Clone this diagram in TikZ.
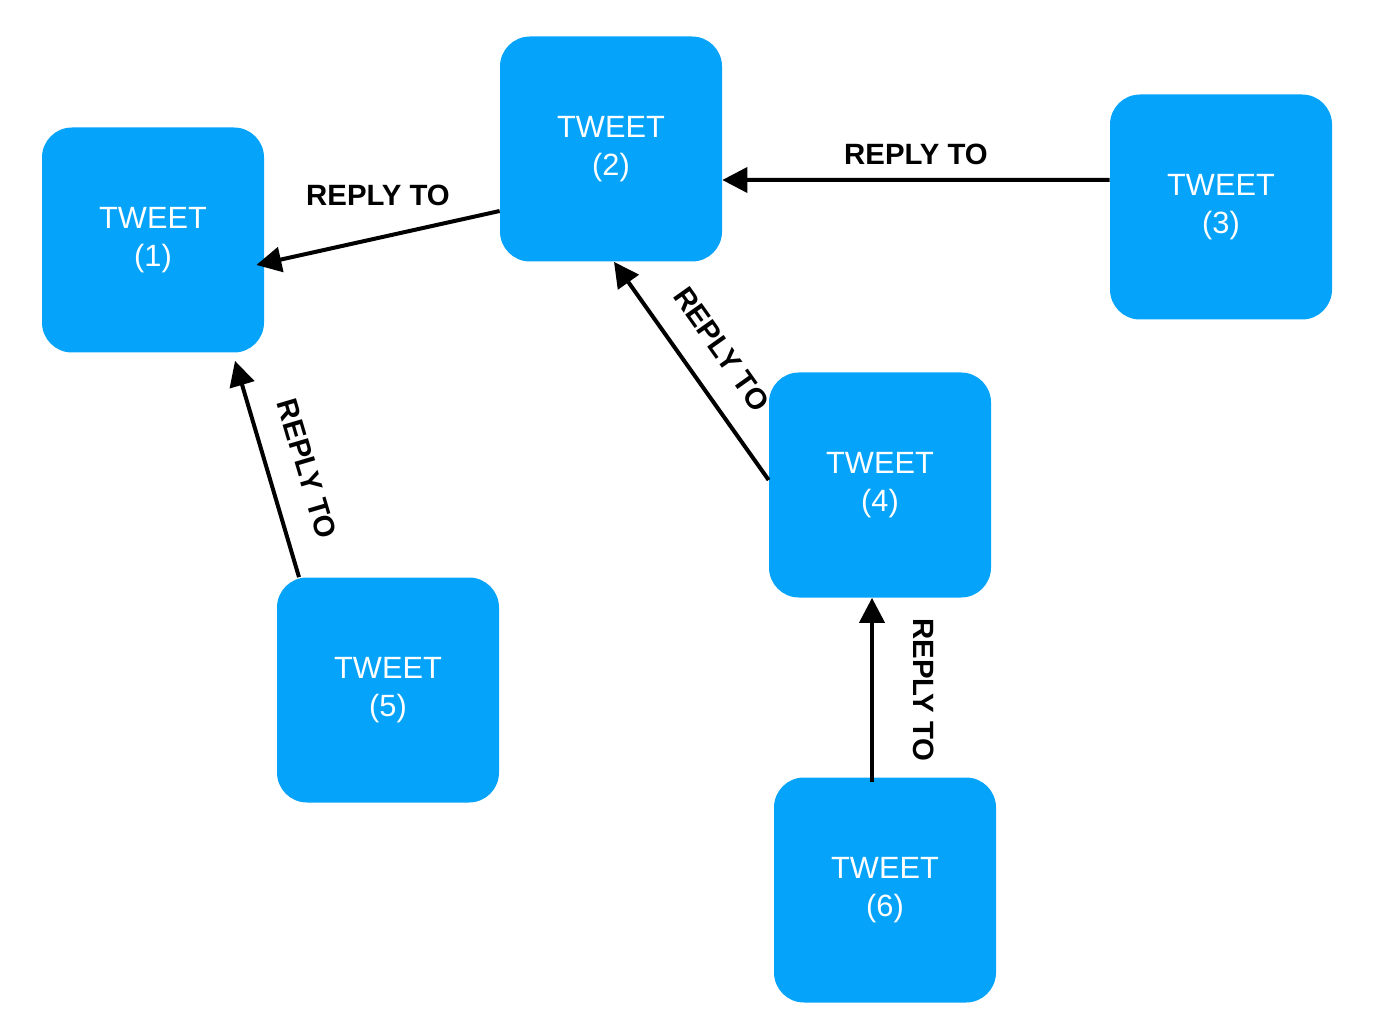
\documentclass[tikz,border=0pt]{standalone}
\usepackage{fontspec}
\setmainfont{Liberation Sans}
\usepackage{tikz}
\usetikzlibrary{arrows.meta}
\definecolor{bleutweet}{RGB}{5,163,250}

\begin{document}
\begin{tikzpicture}[
                tweet/.style={fill=bleutweet, rounded corners=0.6cm, minimum width=4.44cm, minimum height=4.5cm, text=white, align=center, font=\fontsize{17.5}{22}\selectfont},
                reponse/.style={-{Triangle[length=0.5cm, width=0.5cm]}, line width=0.08cm},
                etiquette/.style={font=\fontsize{16.7}{19}\selectfont\bfseries, inner sep=0pt}
            ]
            \useasboundingbox (0,0) rectangle (28,20.54);

            % Les tweets
            \node[tweet] (t1) at (3.06,15.74) {TWEET\\(1)};
            \node[tweet] (t2) at (12.22,17.56) {TWEET\\(2)};
            \node[tweet] (t3) at (24.42,16.40) {TWEET\\(3)};
            \node[tweet] (t4) at (17.60,10.84) {TWEET\\(4)};
            \node[tweet] (t5) at (7.76,6.74) {TWEET\\(5)};
            \node[tweet] (t6) at (17.70,2.74) {TWEET\\(6)};

            % Les reponses
            \draw[reponse] ([yshift=-1.24cm]t2.west) -- node[etiquette, above=0.6cm] {REPLY TO} ([xshift=-0.16cm, yshift=-0.5cm]t1.east);
            \draw[reponse] ([yshift=0.54cm]t3.west) -- node[etiquette, above=0.26cm] {REPLY TO} ([yshift=-0.62cm]t2.east);
            \draw[reponse] ([yshift=0.1cm]t4.west) -- node[etiquette, sloped, above=0.5cm] {REPLY TO} ([xshift=0.06cm]t2.south);
            \draw[reponse] ([xshift=-1.78cm]t5.north) -- node[etiquette, pos=0.45, sloped, above=0.52cm] {REPLY TO} ([xshift=1.64cm, yshift=-0.16cm]t1.south);
            \draw[reponse] ([xshift=-0.26cm, yshift=-0.1cm]t6.north) -- node[etiquette, rotate=-90, above=0.78cm] {REPLY TO} ([xshift=-0.16cm]t4.south);
        \end{tikzpicture}
\end{document}
